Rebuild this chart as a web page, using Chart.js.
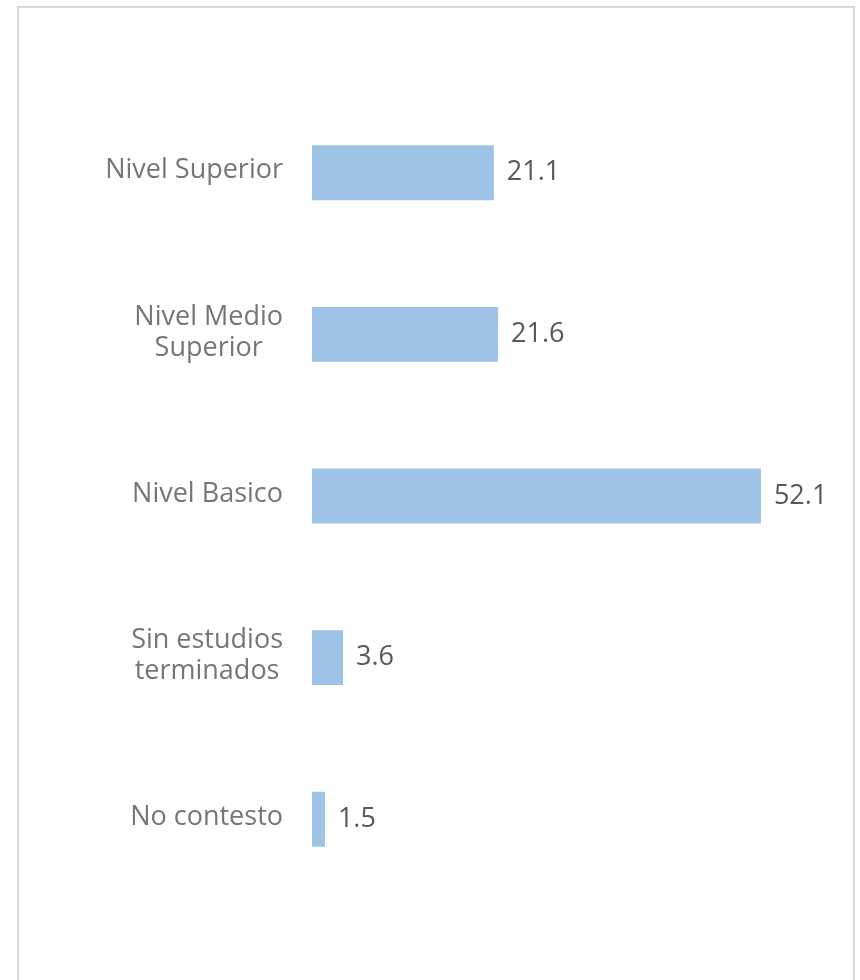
<!DOCTYPE html>
<html>
<head>
<meta charset="utf-8">
<script src="https://cdn.jsdelivr.net/npm/chart.js@4.4.0/dist/chart.umd.min.js"></script>
<style>
  html, body { margin: 0; padding: 0; background: #fff; overflow: hidden; }
  #frame { position: absolute; left: 17px; top: 6px; width: 834px; height: 1000px; border: 2px solid #d9d9d9; border-bottom: none; }
  #wrap { position: absolute; left: 0; top: 0; width: 860px; height: 980px; }
</style>
</head>
<body>
<div id="frame"></div>
<div id="wrap"><canvas id="nivel_estudios" width="860" height="980"></canvas></div>
<script>
// categorias de arriba hacia abajo (cada linea por separado)
const categorias = [
    ['Nivel Superior'],
    ['Nivel Medio', 'Superior'],
    ['Nivel Basico'],
    ['Sin estudios', 'terminados'],
    ['No contesto']
];
const porcentajes = [21.1, 21.6, 52.1, 3.6, 1.5];
const ejeMax = 60;

const fuente = '"Open Sans", sans-serif';

const etiquetas = {
    id: 'etiquetas',
    afterDatasetsDraw(chart) {
        const ctx = chart.ctx;
        const meta = chart.getDatasetMeta(0);
        const yScale = chart.scales.y;
        ctx.save();
        ctx.font = '27px ' + fuente;
        ctx.textBaseline = 'middle';

        // valores al final de cada barra
        ctx.fillStyle = '#595959';
        ctx.textAlign = 'left';
        meta.data.forEach((bar, i) => {
            ctx.fillText(porcentajes[i].toFixed(1), bar.x + 13, bar.y);
        });

        // categorias: bloque alineado a la derecha, lineas centradas
        ctx.fillStyle = '#767676';
        ctx.textAlign = 'center';
        const derecha = 283;
        const altoLinea = 31;
        categorias.forEach((lineas, i) => {
            const y = yScale.getPixelForValue(i);
            const ancho = Math.max(...lineas.map(l => ctx.measureText(l).width));
            const cx = derecha - ancho / 2;
            lineas.forEach((l, j) => {
                ctx.fillText(l, cx, y + (j - (lineas.length - 1) / 2) * altoLinea - 2);
            });
        });
        ctx.restore();
    }
};

const ctx1 = document.getElementById('nivel_estudios').getContext('2d');
const nivel_estudios = new Chart(ctx1, {
    type: 'bar',
    data: {
        labels: categorias.map(c => c.join(' ')),
        datasets: [{
            data: porcentajes,
            backgroundColor: '#9dc3e6',
            borderWidth: 0,
            categoryPercentage: 1,
            barPercentage: 0.34
        }]
    },
    options: {
        indexAxis: 'y',
        responsive: false,
        animation: false,
        layout: {
            padding: { top: 92, bottom: 80, left: 0, right: 31 }
        },
        plugins: {
            legend: { display: false },
            tooltip: { enabled: false }
        },
        scales: {
            x: {
                display: false,
                min: 0,
                max: ejeMax
            },
            y: {
                grid: { display: false },
                border: { display: false },
                ticks: { display: false },
                afterFit(scale) {
                    scale.width = 312;
                }
            }
        }
    },
    plugins: [etiquetas]
});
</script>
</body>
</html>
